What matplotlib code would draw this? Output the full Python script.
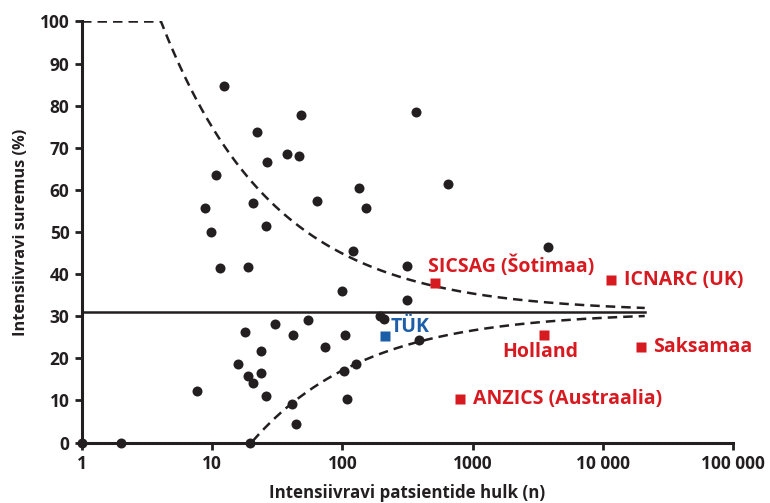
import numpy as np
import matplotlib
matplotlib.use('Agg')
from matplotlib import pyplot as plt

# units (n) and mortality (%)
unit_n = [1, 2, 19.5, 7.7, 12.3, 22, 48.2, 366, 10.7, 26.2, 37.5, 46.3, 63.8,
          134, 151, 650, 8.8, 20.6, 9.8, 26, 120, 3820,
          11.5, 18.7, 18.0, 15.9, 18.8, 20.6, 23.5, 23.5,
          312, 100, 312, 196, 207, 30.6, 54.2, 41.9, 105.6, 72.9, 390,
          127, 102.6, 26, 40.7, 108, 44.1]
unit_mort = [0, 0, 0, 12.2, 84.7, 73.7, 77.8, 78.5, 63.5, 66.6, 68.5, 68, 57.4,
             60.4, 55.6, 61.3, 55.6, 56.8, 50, 51.5, 45.6, 46.4,
             41.4, 41.8, 26.3, 18.6, 15.9, 14.1, 21.7, 16.6,
             41.9, 36, 33.8, 30.1, 29.4, 28.1, 29.2, 25.5, 25.5, 22.8, 24.3,
             18.6, 17, 11.1, 9.2, 10.3, 4.5]

# named registers
reg_names = ['SICSAG (Šotimaa)', 'ICNARC (UK)', 'Holland', 'Saksamaa', 'ANZICS (Austraalia)']
reg_n = [512, 11620, 3530, 19740, 800]
reg_mort = [38.0, 38.5, 25.5, 22.8, 10.3]

tuk_name = 'TÜK'
tuk_n = 213
tuk_mort = 25.3

# funnel: mean mortality and 3 SD binomial limits
mean_mort = 31.0
z = 3.0
n_max = 21000

# label offsets (pixels) relative to the marker
reg_off = [(-7, 16, 'left'), (13, 0, 'left'), (-4, -17, 'center'), (12, 0, 'left'), (13, 0, 'left')]

dark = '#231f20'
red = '#d71920'
blue = '#1c5ea8'

plt.rcParams['font.family'] = ['Open Sans', 'DejaVu Sans']
plt.rcParams['font.weight'] = 'bold'

fig = plt.figure(figsize=(7.70, 5.03), dpi=100)
ax = fig.add_axes([82/770, 1-442.5/503, (733-82)/770, (442.5-21.5)/503])

# funnel limits
n = np.logspace(0, np.log10(n_max), 400)
p = mean_mort/100.0
sd = np.sqrt(p*(1-p)/n)
upper = np.clip(100*(p + z*sd), 0, 100)
lower = 100*(p - z*sd)
mask = lower >= 0
ax.plot(n, upper, color=dark, lw=1.8, ls=(0, (3.8, 2.4)), zorder=2)
ax.plot(n[mask], lower[mask], color=dark, lw=1.8, ls=(0, (3.8, 2.4)), zorder=2)
ax.plot([1, n_max], [mean_mort, mean_mort], color=dark, lw=1.8, zorder=2)

ax.plot(unit_n, unit_mort, 'o', color=dark, ms=7.2, mec='none', clip_on=False, zorder=4)

ax.plot(reg_n, reg_mort, 's', color=red, ms=7, mec='none', zorder=5)
for name, xv, yv, (dx, dy, ha) in zip(reg_names, reg_n, reg_mort, reg_off):
    ax.annotate(name, (xv, yv), xytext=(dx, dy), textcoords='offset pixels',
                ha=ha, va='center', color=red, fontsize=14, fontweight='bold')

ax.plot([tuk_n], [tuk_mort], 's', color=blue, ms=7, mec='none', zorder=5)
ax.annotate(tuk_name, (tuk_n, tuk_mort), xytext=(5, 9), textcoords='offset pixels',
            ha='left', va='center', color=blue, fontsize=14, fontweight='bold')

ax.set_xscale('log')
ax.set_xlim(1, 100000)
ax.set_ylim(0, 100)
ax.set_xticks([1, 10, 100, 1000, 10000, 100000])
ax.set_xticklabels(['1', '10', '100', '1000', '10 000', '100 000'])
ax.xaxis.set_minor_locator(matplotlib.ticker.NullLocator())
ax.set_yticks(range(0, 101, 10))

for s in ['top', 'right']:
    ax.spines[s].set_visible(False)
for s in ['left', 'bottom']:
    ax.spines[s].set_linewidth(2.2)
    ax.spines[s].set_color(dark)
ax.tick_params(axis='both', direction='out', length=5, width=2, color=dark,
               labelsize=12.5, labelcolor=dark, pad=4)
for lab in ax.get_xticklabels() + ax.get_yticklabels():
    lab.set_fontweight('bold')

ax.set_ylabel('Intensiivravi suremus (%)', fontsize=11.8, fontweight='bold', color=dark, labelpad=8)
ax.set_xlabel('Intensiivravi patsientide hulk (n)', fontsize=12.2, fontweight='bold', color=dark, labelpad=8)

fig.savefig('out.png', dpi=100)
